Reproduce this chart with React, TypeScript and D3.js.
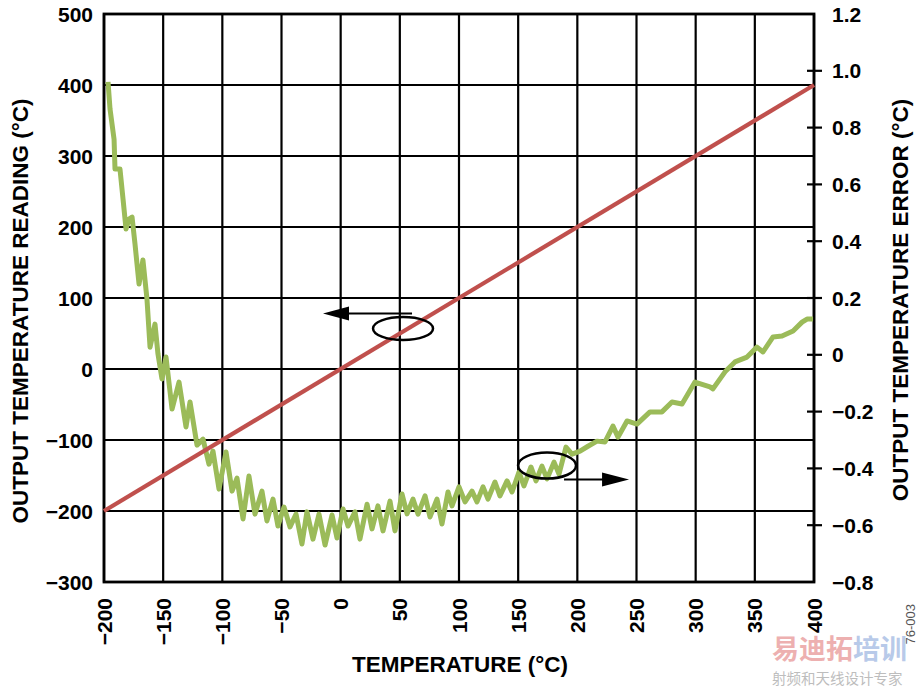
import React from "react";
import * as d3 from "d3";

const xTicks = [-200, -150, -100, -50, 0, 50, 100, 150, 200, 250, 300, 350, 400];
const leftTicks = [-300, -200, -100, 0, 100, 200, 300, 400, 500];
const rightTicks = [-0.8, -0.6, -0.4, -0.2, 0, 0.2, 0.4, 0.6, 0.8, 1.0, 1.2];
const rightTickLabels = ["−0.8", "−0.6", "−0.4", "−0.2", "0", "0.2", "0.4", "0.6", "0.8", "1.0", "1.2"];

// Output temperature reading (left axis)
const readingTemps = [-200, 400];
const readingValues = [-200, 400];

// Output temperature error (right axis)
const errTemps = [
  -196.6, -194.9, -191.5, -190.7, -186.5, -183.9, -181.4, -178.9, -176.3, -173.8,
  -170.4, -167.1, -163.7, -161.1, -156.9, -154.4, -151.0, -147.6, -142.5, -136.6,
  -130.7, -127.3, -121.4, -116.3, -111.3, -107.9, -102.8, -96.9, -91.8, -87.6,
  -82.5, -77.5, -72.4, -66.5, -62.3, -57.2, -53.0, -47.9, -42.8, -37.7,
  -32.7, -28.5, -23.4, -18.3, -13.2, -7.3, -3.1, 2.0, 6.2, 12.1,
  16.3, 22.3, 26.5, 31.5, 35.8, 41.7, 45.9, 51.8, 56.1, 61.1,
  65.4, 71.3, 75.5, 81.4, 85.6, 90.7, 94.1, 100.0, 105.1, 111.0,
  115.2, 120.3, 124.5, 130.4, 134.6, 140.6, 144.8, 150.7, 154.9, 160.8,
  165.1, 170.1, 174.4, 180.3, 184.5, 190.4, 195.5, 202.3, 209.0, 216.6,
  223.4, 230.1, 234.4, 242.0, 250.4, 261.4, 271.5, 280.0, 288.5, 299.4,
  312.1, 314.6, 324.8, 333.2, 343.4, 351.8, 356.9, 365.4, 373.0, 382.3,
  389.9, 394.1, 399.2,
];
const errValues = [
  0.961, 0.865, 0.759, 0.654, 0.654, 0.548, 0.443, 0.478, 0.485, 0.39,
  0.249, 0.334, 0.197, 0.027, 0.108, 0.003, -0.085, -0.008, -0.191, -0.096,
  -0.254, -0.166, -0.318, -0.297, -0.385, -0.339, -0.473, -0.342, -0.48, -0.434,
  -0.578, -0.427, -0.561, -0.48, -0.585, -0.508, -0.603, -0.536, -0.606, -0.561,
  -0.666, -0.553, -0.649, -0.561, -0.67, -0.564, -0.645, -0.543, -0.603, -0.553,
  -0.649, -0.526, -0.613, -0.532, -0.62, -0.515, -0.62, -0.49, -0.56, -0.508,
  -0.561, -0.497, -0.571, -0.508, -0.596, -0.483, -0.532, -0.465, -0.518, -0.48,
  -0.518, -0.465, -0.508, -0.448, -0.497, -0.444, -0.483, -0.413, -0.462, -0.395,
  -0.444, -0.392, -0.437, -0.378, -0.42, -0.325, -0.35, -0.339, -0.322, -0.304,
  -0.307, -0.251, -0.29, -0.233, -0.244, -0.201, -0.201, -0.166, -0.173, -0.096,
  -0.113, -0.12, -0.06, -0.025, -0.008, 0.027, 0.01, 0.063, 0.066, 0.084,
  0.115, 0.126, 0.126,
];

const W = 923;
const H = 690;
const FONT = "'Liberation Sans', Arial, Helvetica, sans-serif";

export default function App() {
  const x = d3.scaleLinear().domain([-200, 400]).range([104, 814]);
  const yL = d3.scaleLinear().domain([-300, 500]).range([582, 14]);
  const yR = d3.scaleLinear().domain([-0.8, 1.2]).range([582, 14]);

  const redLine = d3
    .line<number>()
    .x((_, i) => x(readingTemps[i]))
    .y((d) => yL(d))(readingValues) as string;

  const greenLine = d3
    .line<number>()
    .x((_, i) => x(errTemps[i]))
    .y((d) => yR(d))(errValues) as string;

  const fmt = (v: number) => (v < 0 ? "−" + Math.abs(v) : String(v));

  // annotation anchors in data space
  const e1 = { cx: x(52.7), cy: yL(57) };
  const e2 = { cx: x(174.4), cy: yL(-136) };

  return (
    <svg
      width={W}
      height={H}
      style={{ position: "absolute", left: 0, top: 0, background: "#fff" }}
      fontFamily={FONT}
      fontWeight="bold"
    >
      <rect x={0} y={0} width={W} height={H} fill="#fff" />
      {/* grid */}
      {xTicks.map((t) => (
        <line key={"gx" + t} x1={x(t)} x2={x(t)} y1={yL(-300)} y2={yL(500)} stroke="#000" strokeWidth={2.2} />
      ))}
      {leftTicks.map((t) => (
        <line key={"gy" + t} x1={x(-200)} x2={x(400)} y1={yL(t)} y2={yL(t)} stroke="#000" strokeWidth={2.2} />
      ))}
      {/* right ticks */}
      {rightTicks.slice(1, -1).map((t) => (
        <line key={"rt" + t} x1={x(400) - 7} x2={x(400) + 8} y1={yR(t)} y2={yR(t)} stroke="#000" strokeWidth={2.2} />
      ))}
      <rect
        x={x(-200)}
        y={yL(500)}
        width={x(400) - x(-200)}
        height={yL(-300) - yL(500)}
        fill="none"
        stroke="#000"
        strokeWidth={2.8}
      />

      {/* data */}
      <path d={greenLine} fill="none" stroke="#9bbb59" strokeWidth={5} strokeLinejoin="round" />
      <path d={redLine} fill="none" stroke="#c0504d" strokeWidth={4.2} />

      {/* annotations */}
      <ellipse cx={e1.cx} cy={e1.cy} rx={30} ry={11.5} fill="none" stroke="#000" strokeWidth={2.5} />
      <line x1={e1.cx + 9} x2={e1.cx - 55} y1={e1.cy - 15} y2={e1.cy - 15} stroke="#000" strokeWidth={2} />
      <polygon
        points={`${e1.cx - 80},${e1.cy - 15} ${e1.cx - 54},${e1.cy - 22} ${e1.cx - 54},${e1.cy - 8}`}
        fill="#000"
      />
      <ellipse cx={e2.cx} cy={e2.cy} rx={29} ry={13} fill="none" stroke="#000" strokeWidth={2.5} />
      <line x1={e2.cx + 17} x2={e2.cx + 58} y1={e2.cy + 14} y2={e2.cy + 14} stroke="#000" strokeWidth={2} />
      <polygon
        points={`${e2.cx + 82},${e2.cy + 14} ${e2.cx + 55},${e2.cy + 7} ${e2.cx + 55},${e2.cy + 21}`}
        fill="#000"
      />

      {/* left tick labels */}
      {leftTicks.map((t) => (
        <text key={"lt" + t} x={93} y={yL(t) + 7.5} textAnchor="end" fontSize={21} fill="#000">
          {fmt(t)}
        </text>
      ))}
      {/* right tick labels */}
      {rightTicks.map((t, i) => (
        <text key={"rl" + t} x={832} y={yR(t) + 7.5} textAnchor="start" fontSize={21} fill="#000">
          {rightTickLabels[i]}
        </text>
      ))}
      {/* x tick labels */}
      {xTicks.map((t) => (
        <text
          key={"xt" + t}
          transform={`translate(${x(t) + 7.5},598) rotate(-90)`}
          textAnchor="end"
          fontSize={21}
          fill="#000"
        >
          {fmt(t)}
        </text>
      ))}

      {/* axis titles */}
      <text x={460} y={672} textAnchor="middle" fontSize={22.5} fill="#000">
        TEMPERATURE (°C)
      </text>
      <text transform={`translate(28,${yL(100) + 13}) rotate(-90)`} textAnchor="middle" fontSize={22.5} fill="#000">
        OUTPUT TEMPERATURE READING (°C)
      </text>
      <text transform={`translate(908,${yR(0.2) + 2}) rotate(-90)`} textAnchor="middle" fontSize={22.5} fill="#000">
        OUTPUT TEMPERATURE ERROR (°C)
      </text>

      {/* figure id */}
      <text
        transform={`translate(915,604) rotate(-90)`}
        textAnchor="end"
        fontSize={13}
        fontWeight="normal"
        fill="#555"
      >
        76-003
      </text>

      {/* watermark */}
      <g opacity={0.55} fontFamily="'Noto Sans CJK SC', sans-serif">
        <text x={772} y={659} fontSize={27}>
          <tspan fill="#e07070">易迪拓</tspan>
          <tspan fill="#7fa0d8">培训</tspan>
        </text>
        <text x={772} y={684} fontSize={14.5} fontWeight="normal" fill="#888">
          射频和天线设计专家
        </text>
      </g>
    </svg>
  );
}
